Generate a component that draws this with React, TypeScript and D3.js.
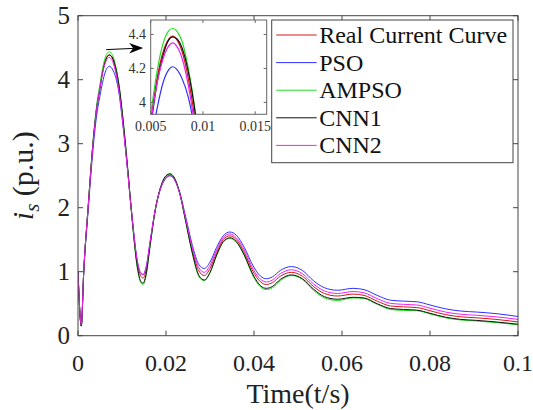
import React from "react";
import * as d3 from "d3";

// time samples (s)
const T = [
  0, 0.00075, 0.0013, 0.0023, 0.0034, 0.0042, 0.005, 0.0056, 0.0062, 0.0067,
  0.0071, 0.0075, 0.008, 0.0086, 0.0093, 0.0102, 0.0112, 0.0122, 0.0135, 0.0142,
  0.0148, 0.0155, 0.0164, 0.0176, 0.019, 0.02, 0.0209, 0.0218, 0.023, 0.0245,
  0.026, 0.0275, 0.0287, 0.03, 0.0315, 0.033, 0.0345, 0.036, 0.0378, 0.0398,
  0.0415, 0.0428, 0.0442, 0.046, 0.0485, 0.051, 0.0535, 0.056, 0.059, 0.0625,
  0.065, 0.068, 0.071, 0.074, 0.077, 0.08, 0.0835, 0.087, 0.0905, 0.095, 0.1,
];

const realCurve = [
  1.0, 0.16, 1.0, 2.0, 3.0, 3.55, 3.9, 4.14, 4.3, 4.37,
  4.39, 4.37, 4.3, 4.14, 3.87, 3.35, 2.65, 1.9, 1.12, 0.94,
  0.9, 1.03, 1.45, 1.98, 2.35, 2.47, 2.51, 2.46, 2.25, 1.8,
  1.33, 1.01, 0.94, 1.05, 1.3, 1.5, 1.56, 1.5, 1.3, 1.0,
  0.84, 0.8, 0.83, 0.93, 0.99, 0.93, 0.77, 0.66, 0.62, 0.65,
  0.63, 0.54, 0.465, 0.45, 0.44, 0.39, 0.33, 0.295, 0.28, 0.255, 0.215,
];

const pso = [
  1.0, 0.16, 0.98, 1.95, 2.9, 3.42, 3.75, 3.96, 4.12, 4.19,
  4.21, 4.195, 4.14, 4.03, 3.8, 3.3, 2.64, 1.93, 1.16, 0.98,
  0.95, 1.07, 1.47, 1.98, 2.34, 2.46, 2.5, 2.46, 2.27, 1.85,
  1.41, 1.11, 1.05, 1.15, 1.38, 1.56, 1.62, 1.57, 1.38, 1.09,
  0.93, 0.89, 0.92, 1.02, 1.08, 1.02, 0.86, 0.75, 0.71, 0.74,
  0.72, 0.63, 0.555, 0.54, 0.53, 0.48, 0.42, 0.385, 0.37, 0.345, 0.3,
];

const ampso = [
  1.0, 0.15, 1.0, 2.02, 3.03, 3.58, 3.93, 4.18, 4.35, 4.42,
  4.435, 4.42, 4.36, 4.2, 3.93, 3.4, 2.68, 1.88, 1.05, 0.84,
  0.8, 0.95, 1.41, 1.97, 2.36, 2.49, 2.52, 2.47, 2.25, 1.77,
  1.28, 0.92, 0.86, 0.98, 1.25, 1.46, 1.52, 1.46, 1.25, 0.93,
  0.76, 0.72, 0.75, 0.86, 0.94, 0.88, 0.71, 0.59, 0.55, 0.59,
  0.58, 0.49, 0.41, 0.395, 0.39, 0.34, 0.28, 0.245, 0.23, 0.205, 0.17,
];

const cnn1 = [
  1.0, 0.15, 0.99, 2.0, 3.0, 3.53, 3.86, 4.11, 4.28, 4.365,
  4.385, 4.375, 4.32, 4.18, 3.92, 3.4, 2.69, 1.9, 1.07, 0.86,
  0.82, 0.97, 1.42, 1.98, 2.37, 2.5, 2.53, 2.48, 2.26, 1.78,
  1.29, 0.94, 0.87, 0.99, 1.26, 1.47, 1.53, 1.47, 1.26, 0.95,
  0.78, 0.74, 0.77, 0.88, 0.95, 0.89, 0.73, 0.61, 0.57, 0.6,
  0.59, 0.5, 0.425, 0.41, 0.4, 0.35, 0.29, 0.255, 0.24, 0.215, 0.18,
];

const cnn2 = [
  1.0, 0.17, 1.0, 2.0, 2.98, 3.52, 3.88, 4.11, 4.26, 4.33,
  4.35, 4.33, 4.26, 4.1, 3.82, 3.31, 2.63, 1.91, 1.16, 0.99,
  0.96, 1.08, 1.48, 1.99, 2.35, 2.47, 2.5, 2.45, 2.25, 1.82,
  1.37, 1.06, 0.99, 1.1, 1.34, 1.53, 1.59, 1.53, 1.34, 1.04,
  0.88, 0.84, 0.87, 0.97, 1.03, 0.97, 0.81, 0.7, 0.66, 0.69,
  0.67, 0.58, 0.505, 0.49, 0.48, 0.43, 0.37, 0.335, 0.32, 0.295, 0.255,
];

const seriesNames = ["Real Current Curve", "PSO", "AMPSO", "CNN1", "CNN2"];
const seriesValues = [realCurve, pso, ampso, cnn1, cnn2];
const seriesColors = ["#d01818", "#3030ff", "#22dd22", "#111111", "#ee22ee"];

const xTicks = [0, 0.02, 0.04, 0.06, 0.08, 0.1];
const xTickLabels = ["0", "0.02", "0.04", "0.06", "0.08", "0.1"];
const yTicks = [0, 1, 2, 3, 4, 5];
const insetXTicks = [0.005, 0.01, 0.015];
const insetXLabels = ["0.005", "0.01", "0.015"];
const insetYTicks = [4, 4.2, 4.4];
const insetYLabels = ["4", "4.2", "4.4"];

const W = 533;
const H = 410;
const font = "'Liberation Serif', 'Times New Roman', serif";
const axisColor = "#444";

export default function App() {
  const x = d3.scaleLinear().domain([0, 0.1]).range([78, 518]);
  const y = d3.scaleLinear().domain([0, 5]).range([335.7, 15.7]);

  const ix = d3.scaleLinear().domain([0.005, 0.0161]).range([150.7, 266.7]);
  const iy = d3.scaleLinear().domain([3.93, 4.485]).range([114.3, 20]);

  const mainLine = d3
    .line<number>()
    .x((_, i) => x(T[i]))
    .y((d) => y(d))
    .curve(d3.curveMonotoneX);

  const insetLine = d3
    .line<number>()
    .x((_, i) => ix(T[i]))
    .y((d) => iy(d))
    .curve(d3.curveMonotoneX);

  const [x0, x1] = x.range();
  const [y0, y1] = y.range();
  const [ix0, ix1] = ix.range();
  const [iy0, iy1] = iy.range();

  // arrow from main peak towards inset
  const ax0 = x(0.0064);
  const ay0 = y(4.47);
  const ax1 = ix0 - 7.5;
  const ay1 = ay0 - 1.7;

  // legend box
  const lg = { x: 271.7, y: 20, w: 241.3, h: 142.7, row: 27.6 };

  return (
    <div style={{ position: "absolute", left: 0, top: 0 }}>
      <svg width={W} height={H} style={{ display: "block", background: "#fff" }}>
        <defs>
          <clipPath id="mainClip">
            <rect x={x0} y={y1} width={x1 - x0} height={y0 - y1} />
          </clipPath>
          <clipPath id="insetClip">
            <rect x={ix0} y={iy1} width={ix1 - ix0} height={iy0 - iy1} />
          </clipPath>
        </defs>

        {/* main curves */}
        <g clipPath="url(#mainClip)">
          {seriesValues.map((vals, k) => (
            <path
              key={k}
              d={mainLine(vals) || ""}
              fill="none"
              stroke={seriesColors[k]}
              strokeWidth={1}
            />
          ))}
        </g>

        {/* main axes box and ticks */}
        <rect
          x={x0}
          y={y1}
          width={x1 - x0}
          height={y0 - y1}
          fill="none"
          stroke={axisColor}
          strokeWidth={1}
        />
        {xTicks.map((t, i) => (
          <g key={"xt" + i}>
            <line x1={x(t)} x2={x(t)} y1={y0} y2={y0 - 5} stroke={axisColor} />
            <line x1={x(t)} x2={x(t)} y1={y1} y2={y1 + 5} stroke={axisColor} />
            <text
              x={x(t)}
              y={371}
              textAnchor="middle"
              fontFamily={font}
              fontSize={24}
              fill="#222"
            >
              {xTickLabels[i]}
            </text>
          </g>
        ))}
        {yTicks.map((t, i) => (
          <g key={"yt" + i}>
            <line x1={x0} x2={x0 + 5} y1={y(t)} y2={y(t)} stroke={axisColor} />
            <line x1={x1} x2={x1 - 5} y1={y(t)} y2={y(t)} stroke={axisColor} />
            <text
              x={70}
              y={y(t)}
              dy="0.35em"
              textAnchor="end"
              fontFamily={font}
              fontSize={25}
              fill="#222"
            >
              {t}
            </text>
          </g>
        ))}

        {/* axis titles */}
        <text
          x={(x0 + x1) / 2}
          y={403}
          textAnchor="middle"
          fontFamily={font}
          fontSize={28}
          fill="#222"
        >
          Time(t/s)
        </text>
        <text
          transform={`translate(33,${(y0 + y1) / 2}) rotate(-90)`}
          textAnchor="middle"
          fontFamily={font}
          fontSize={30}
          fill="#222"
        >
          <tspan fontStyle="italic">i</tspan>
          <tspan fontStyle="italic" fontSize={21} dy={6}>
            s
          </tspan>
          <tspan dy={-6}> (p.u.)</tspan>
        </text>

        {/* inset */}
        <rect
          x={ix0}
          y={iy1}
          width={ix1 - ix0}
          height={iy0 - iy1}
          fill="#fff"
          stroke="#666"
          strokeWidth={1}
        />
        <g clipPath="url(#insetClip)">
          {seriesValues.map((vals, k) => (
            <path
              key={k}
              d={insetLine(vals) || ""}
              fill="none"
              stroke={seriesColors[k]}
              strokeWidth={1.2}
            />
          ))}
        </g>
        {insetXTicks.map((t, i) => (
          <g key={"ixt" + i}>
            <line x1={ix(t)} x2={ix(t)} y1={iy0} y2={iy0 - 3} stroke="#666" />
            <line x1={ix(t)} x2={ix(t)} y1={iy1} y2={iy1 + 3} stroke="#666" />
            <text
              x={ix(t)}
              y={131}
              textAnchor="middle"
              fontFamily={font}
              fontSize={14}
              fill="#333"
            >
              {insetXLabels[i]}
            </text>
          </g>
        ))}
        {insetYTicks.map((t, i) => (
          <g key={"iyt" + i}>
            <line x1={ix0} x2={ix0 + 3} y1={iy(t)} y2={iy(t)} stroke="#666" />
            <line x1={ix1} x2={ix1 - 3} y1={iy(t)} y2={iy(t)} stroke="#666" />
            <text
              x={146}
              y={iy(t)}
              dy="0.35em"
              textAnchor="end"
              fontFamily={font}
              fontSize={14}
              fill="#333"
            >
              {insetYLabels[i]}
            </text>
          </g>
        ))}

        {/* arrow */}
        <line x1={ax0} y1={ay0} x2={ax1 - 8} y2={ay1 + 0.4} stroke="#000" strokeWidth={1} />
        <polygon
          points={`${ax1},${ay1} ${ax1 - 14},${ay1 - 5} ${ax1 - 10},${ay1 + 0.4} ${ax1 - 14},${ay1 + 5.6}`}
          fill="#000"
        />

        {/* legend */}
        <rect
          x={lg.x}
          y={lg.y}
          width={lg.w}
          height={lg.h}
          fill="#fff"
          stroke="#444"
          strokeWidth={1}
        />
        {seriesNames.map((name, k) => {
          const ly = 35 + k * lg.row;
          return (
            <g key={"lg" + k}>
              <line
                x1={lg.x + 4.5}
                x2={lg.x + 45}
                y1={ly}
                y2={ly}
                stroke={seriesColors[k]}
                strokeWidth={1}
              />
              <text
                x={lg.x + 47.5}
                y={ly + 8}
                fontFamily={font}
                fontSize={24}
                fill="#111"
              >
                {name}
              </text>
            </g>
          );
        })}
      </svg>
    </div>
  );
}
